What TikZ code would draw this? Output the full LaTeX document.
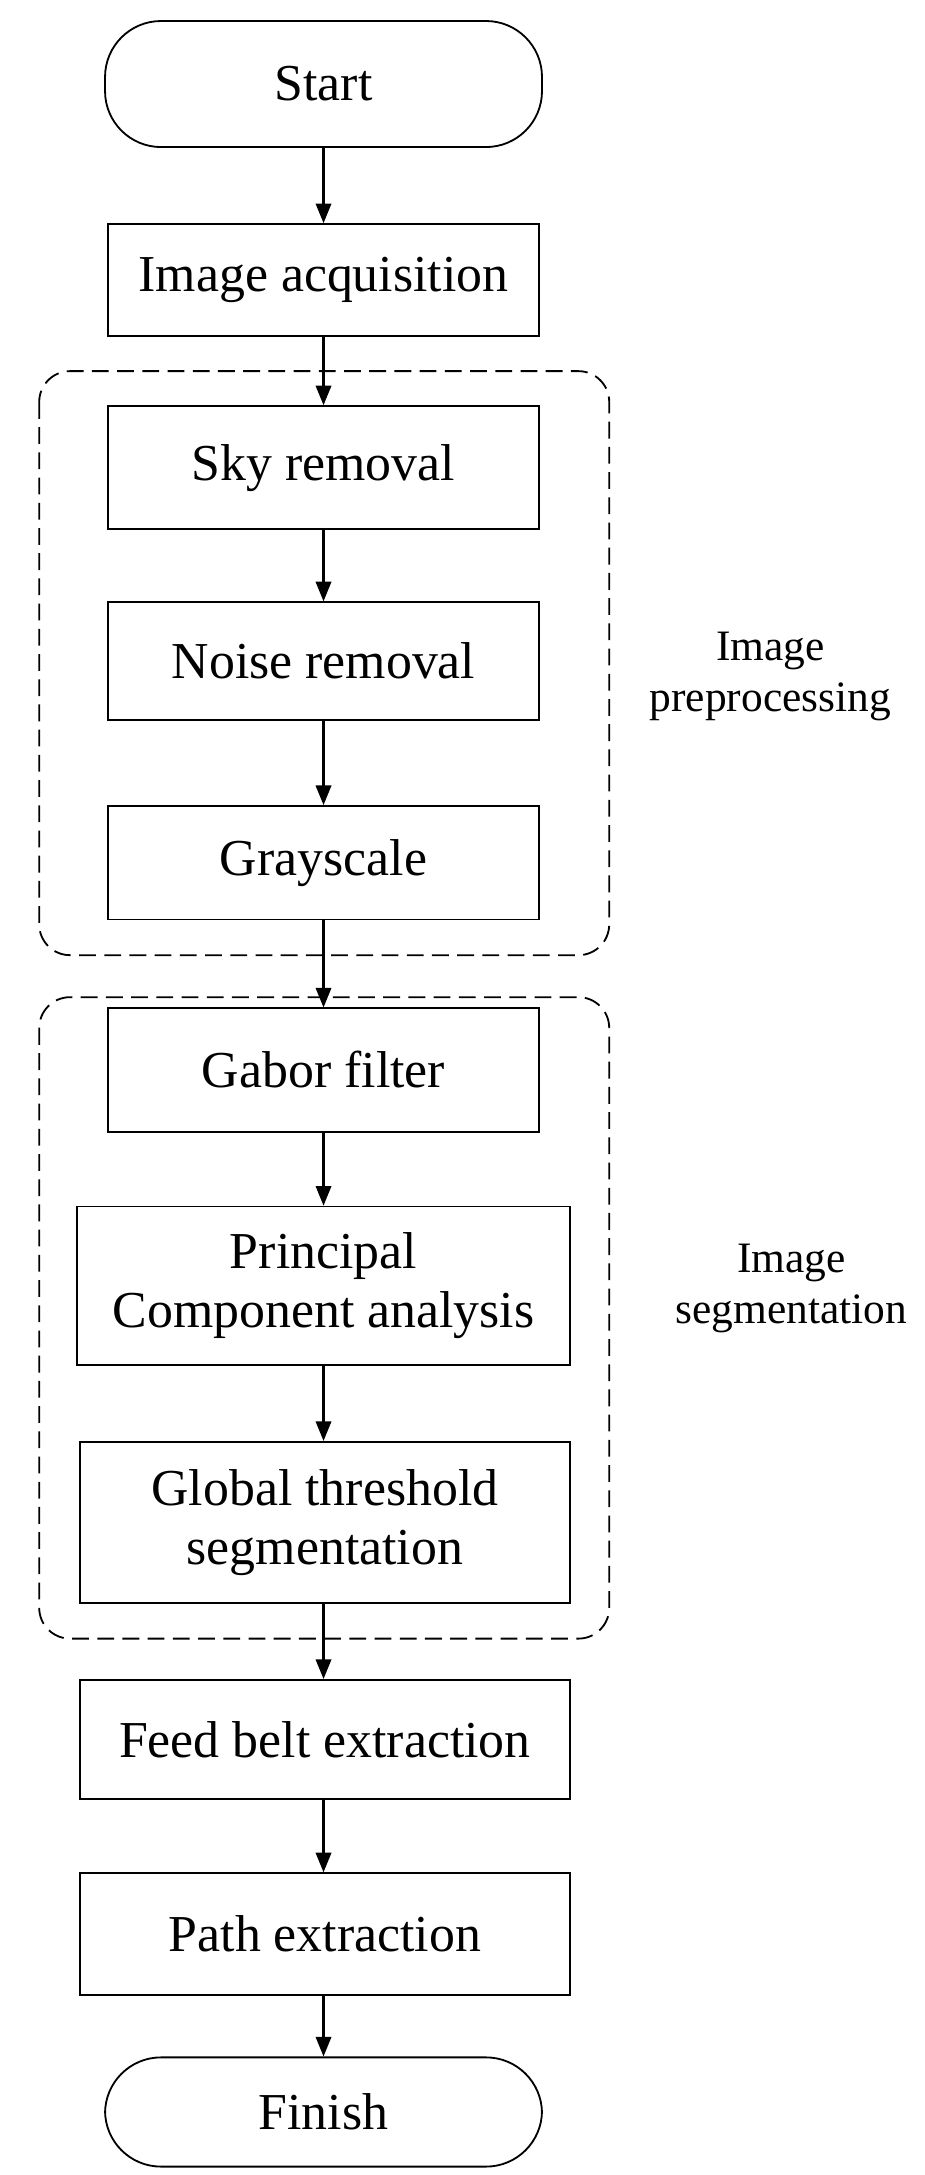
\documentclass[tikz,border=0pt]{standalone}
\usepackage{fontspec}
\setmainfont{Liberation Serif}
\usetikzlibrary{arrows.meta}
\begin{document}
\begin{tikzpicture}[x=1pt,y=-1pt,
  box/.style={draw,line width=1.3pt,align=center,font=\fontsize{37}{42}\selectfont},
  term/.style={box,rounded corners=40pt},
  grp/.style={draw,dashed,dash pattern=on 12pt off 6pt,line width=1.3pt,rounded corners=22pt},
  lab/.style={align=center,font=\fontsize{31}{36}\selectfont},
  arr/.style={-{Triangle[length=14pt,width=11pt]},line width=1.6pt}]
\useasboundingbox (0,0) rectangle (660,1553);
\node[term,minimum width=312pt,minimum height=90pt] (start) at (231,60) {Start};
\node[box,minimum width=308pt,minimum height=80pt] (acq) at (231,200) {Image acquisition};
\draw[grp] (28,265) rectangle (435,682);
\node[box,minimum width=308pt,minimum height=88pt] (sky) at (231,334) {Sky removal};
\node[box,minimum width=308pt,minimum height=84pt] (noise) at (231,472) {Noise removal};
\node[box,minimum width=308pt,minimum height=81pt] (gray) at (231,616) {Grayscale};
\node[lab] (pre) at (550,483) {Image\\preprocessing};
\draw[grp] (28,712) rectangle (435,1170);
\node[box,minimum width=308pt,minimum height=88pt] (gabor) at (231,764) {Gabor filter};
\node[box,minimum width=352pt,minimum height=113pt] (pca) at (231,918) {Principal\\Component analysis};
\node[box,minimum width=350pt,minimum height=115pt] (glob) at (232,1087) {Global threshold\\segmentation};
\node[lab] (seg) at (565,920) {Image\\segmentation};
\node[box,minimum width=350pt,minimum height=85pt] (feed) at (232,1242) {Feed belt extraction};
\node[box,minimum width=350pt,minimum height=87pt] (path) at (232,1381) {Path extraction};
\node[term,minimum width=312pt,minimum height=78pt] (fin) at (231,1508) {Finish};
\foreach \a/\b in {start/acq,acq/sky,sky/noise,noise/gray,gray/gabor,gabor/pca,pca/glob,glob/feed,feed/path,path/fin}
  \draw[arr] (\a.south -| 231,0) -- (\b.north -| 231,0);
\end{tikzpicture}
\end{document}
